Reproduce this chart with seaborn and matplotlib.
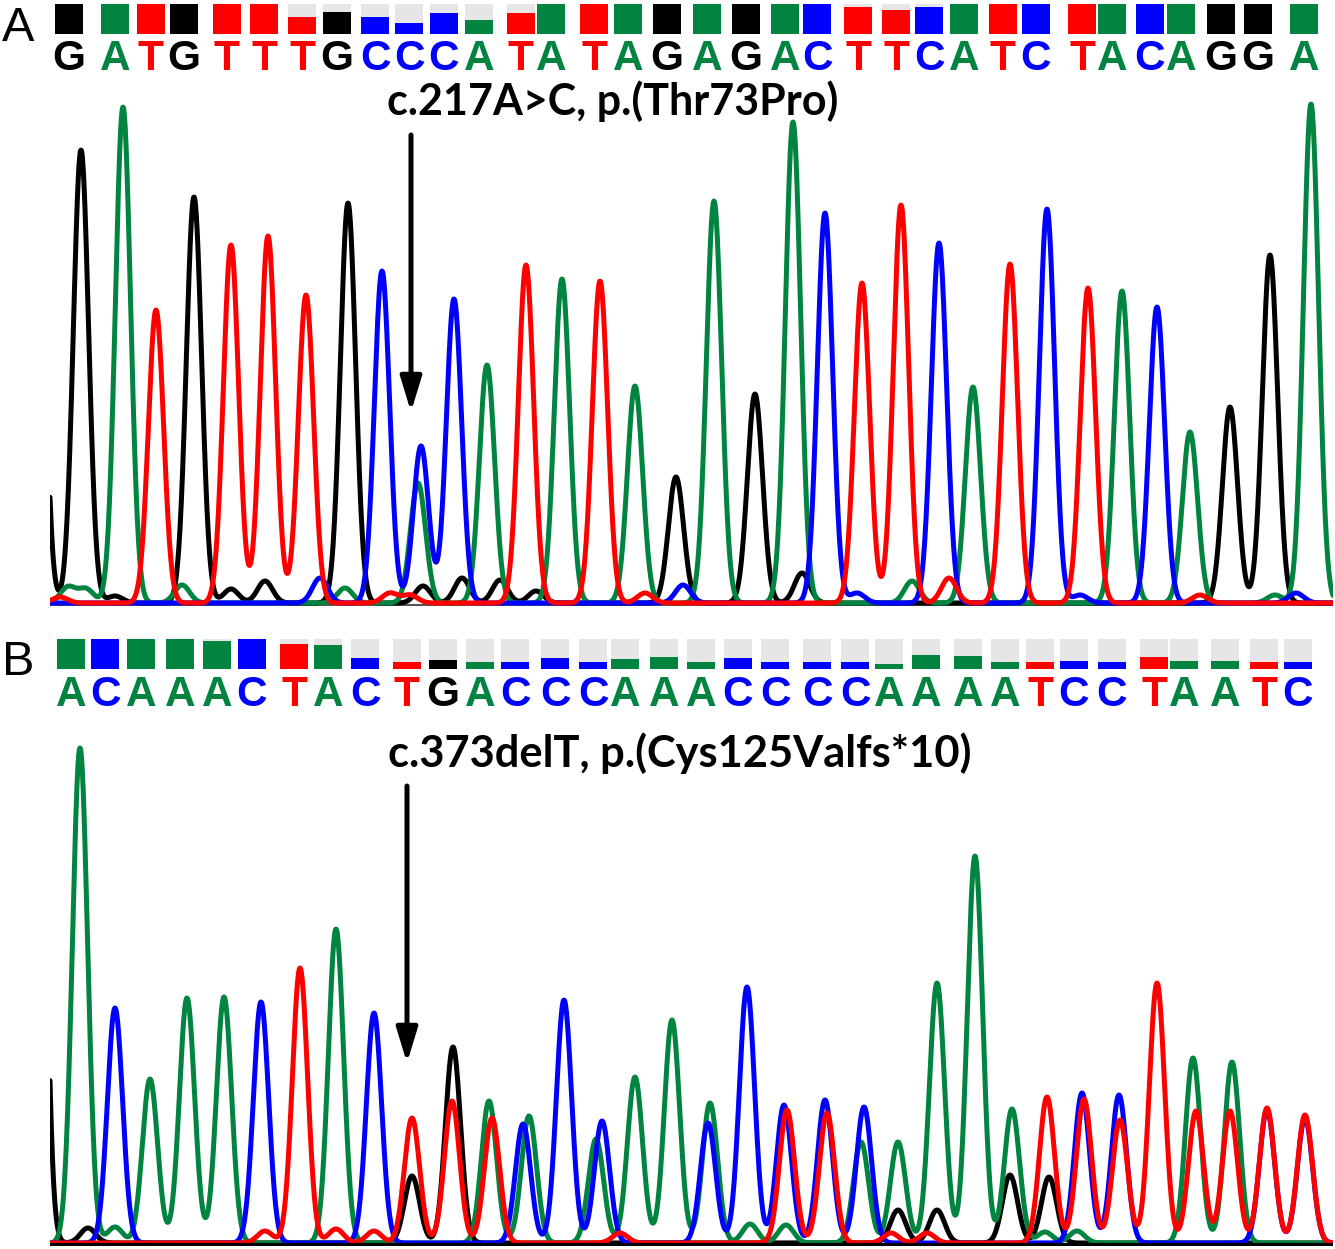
import numpy as np
import pandas as pd
import matplotlib
matplotlib.use("Agg")
import matplotlib.pyplot as plt
import seaborn as sns

sns.set_theme(style="white")
plt.rcParams['font.family'] = ['Liberation Sans', 'DejaVu Sans']

# ---------------- DATA ----------------
# Panel A base calls, positions and quality
a_bases = list("GATGTTTGCCCATATAGAGACTTCATCTACAGGA")
a_base_pos = [69, 115, 151, 184, 227, 264, 302, 337, 375, 409, 444, 479, 521, 551, 594, 628, 667,
              707, 746, 785, 817, 858, 896, 929, 964, 1003, 1036, 1082, 1112, 1150, 1181, 1221, 1258, 1304]
a_quality = [1, 1, 1, 1, 1, 1, 0.58, 0.75, 0.58, 0.36, 0.69, 0.47, 0.69, 1, 1, 1, 1,
             1, 1, 1, 1, 0.89, 0.80, 0.89, 1, 1, 1, 1, 1, 1, 1, 1, 1, 1]

# Panel B base calls, positions and quality
b_bases = list("ACAAACTACTGACCCAAACCCCAAAATCCTAATC")
b_base_pos = [71, 105, 141, 180, 217, 252, 294, 328, 365, 407, 443, 480, 515, 555, 593, 625, 664,
              701, 738, 775, 817, 855, 889, 926, 968, 1005, 1040, 1074, 1112, 1154, 1184, 1225, 1264, 1298]
b_quality = [1, 1, 1, 1, 0.95, 1, 0.83, 0.81, 0.375, 0.22, 0.29, 0.22, 0.22, 0.375, 0.22, 0.32, 0.40,
             0.22, 0.375, 0.22, 0.22, 0.22, 0.17, 0.47, 0.45, 0.22, 0.22, 0.26, 0.22, 0.40, 0.27, 0.27, 0.22, 0.22]

# Panel A trace peaks (scan position, signal)
a_G_pos = [36, 81, 194, 348, 676, 755, 1230, 1270, 115, 231, 265, 423, 462, 500, 536, 802]
a_G_h = [576, 453, 406, 400, 126, 209, 196, 348, 7, 14, 22, 17, 25, 23, 12, 30]
a_A_pos = [123, 418, 487, 562, 635, 714, 793, 973, 1122, 1190, 1311, 68, 86, 182, 345, 912, 1275]
a_A_h = [496, 120, 238, 324, 217, 402, 481, 216, 312, 171, 499, 16, 14, 18, 15, 22, 8]
a_C_pos = [382, 421, 454, 825, 939, 1047, 1157, 320, 683, 857, 1080, 1296]
a_C_h = [332, 157, 304, 390, 360, 394, 296, 25, 18, 10, 8, 10]
a_T_pos = [156, 231, 268, 306, 526, 600, 862, 901, 1010, 1088, 60, 390, 410, 645, 949, 1200]
a_T_h = [293, 358, 367, 308, 338, 322, 320, 398, 339, 315, 6, 10, 8, 10, 25, 8]

# Panel B trace peaks (scan position, signal)
b_G_pos = [36, 88, 412, 453, 898, 937, 1010, 1049]
b_G_h = [886, 15, 67, 196, 33, 33, 68, 66]
b_A_pos = [80, 115, 150, 187, 224, 336, 489, 529, 596, 635, 672, 710, 750, 786, 861, 898, 937, 975,
           1012, 1045, 1077, 1193, 1232]
b_A_h = [495, 16, 164, 245, 246, 314, 142, 127, 104, 166, 223, 140, 19, 18, 101, 101, 260, 387,
         134, 11, 12, 185, 181]
b_C_pos = [115, 261, 374, 523, 564, 602, 708, 747, 784, 825, 864, 1082, 1119, 1267, 1305]
b_C_h = [235, 241, 230, 119, 243, 122, 120, 256, 138, 143, 136, 150, 148, 133, 125]
b_T_pos = [300, 412, 452, 492, 787, 827, 1047, 1084, 1120, 1157, 1196, 1230, 1267, 1305,
           265, 336, 374, 891, 927, 620]
b_T_h = [275, 125, 142, 125, 133, 130, 146, 144, 123, 260, 132, 132, 135, 128,
         12, 14, 12, 10, 10, 10]

a_label = "c.217A>C, p.(Thr73Pro)"
b_label = "c.373delT, p.(Cys125Valfs*10)"

# ---------------- STYLE ----------------
COL = {'G': '#000000', 'A': '#00843f', 'C': '#0000ff', 'T': '#ff0000'}
GRAY = '#e6e6e6'
W, H = 1335, 1249
SIGMA = 7.6

fig = plt.figure(figsize=(W / 100, H / 100), dpi=100)
bg = fig.add_axes([0, 0, 1, 1])
bg.set_xlim(0, W)
bg.set_ylim(H, 0)
bg.axis('off')


def header(bases, pos, qual, sq_bottom, letter_base, panel, panel_base):
    sq_h = 30
    sq_w = 28
    bg.bar(pos, [-sq_h] * len(pos), bottom=sq_bottom, width=sq_w, color=GRAY, linewidth=0)
    bg.bar(pos, [-sq_h * q for q in qual], bottom=sq_bottom, width=sq_w,
           color=[COL[b] for b in bases], linewidth=0)
    for b, x in zip(bases, pos):
        bg.text(x, letter_base, b, ha='center', va='baseline', fontsize=30.5,
                fontweight='bold', color=COL[b], family='Liberation Sans')
    bg.text(2, panel_base, panel, ha='left', va='baseline', fontsize=35,
            color='black', family='Liberation Sans')


header(a_bases, a_base_pos, a_quality, 34, 70, 'A', 41)
header(b_bases, b_base_pos, b_quality, 669, 706, 'B', 675)

# annotations
ta = bg.text(387, 115, a_label, ha='left', va='baseline', fontsize=28,
             fontweight='bold', family=['Lato', 'DejaVu Sans'], color='black')
tb = bg.text(388, 767, b_label, ha='left', va='baseline', fontsize=28,
             fontweight='bold', family=['Lato', 'DejaVu Sans'], color='black')
fig.canvas.draw()
rend = fig.canvas.get_renderer()
for t, target in ((ta, 451), (tb, 582)):
    wpx = t.get_window_extent(rend).width
    t.set_fontsize(28 * target / wpx)

arrow_style = dict(arrowstyle='-|>,head_length=1.05,head_width=0.32', lw=3.6, color='black',
                   mutation_scale=20, shrinkA=0, shrinkB=0)
bg.annotate('', xy=(411, 412), xytext=(411, 135), arrowprops=arrow_style)
bg.annotate('', xy=(407, 1063), xytext=(407, 786), arrowprops=arrow_style)

# traces
xg = np.linspace(50, 1333, 3000)


def trace(pos, h):
    p = np.asarray(pos, float)[:, None]
    hh = np.asarray(h, float)[:, None]
    return (hh * np.exp(-0.5 * ((xg[None, :] - p) / SIGMA) ** 2)).sum(axis=0)


def chrom(rect_top, rect_bottom, peaks, base_color, base_lw):
    ax = fig.add_axes([50 / W, 1 - rect_bottom / H, 1283 / W, (rect_bottom - rect_top) / H])
    ax.patch.set_alpha(0)
    frames = []
    for base, (p, h) in peaks.items():
        frames.append(pd.DataFrame({'x': xg, 'y': trace(p, h), 'base': base}))
    df = pd.concat(frames, ignore_index=True)
    ax.axhline(-1.5, color=base_color, lw=base_lw, zorder=0)
    sns.lineplot(data=df, x='x', y='y', hue='base', hue_order=['G', 'A', 'C', 'T'],
                 palette=COL, estimator=None, sort=False, lw=3.6, legend=False, ax=ax)
    ax.set_xlim(50, 1333)
    ax.set_ylim(-3, 503)
    ax.axis('off')
    return ax


chrom(100, 606, {'G': (a_G_pos, a_G_h), 'A': (a_A_pos, a_A_h),
                 'C': (a_C_pos, a_C_h), 'T': (a_T_pos, a_T_h)}, '#555555', 1.5)
axb = chrom(740, 1246, {'G': (b_G_pos, b_G_h), 'A': (b_A_pos, b_A_h),
                        'C': (b_C_pos, b_C_h), 'T': (b_T_pos, b_T_h)}, 'black', 2.5)
axb.axhline(-2, color='black', lw=3, zorder=10)

fig.savefig('out.png', dpi=100)
